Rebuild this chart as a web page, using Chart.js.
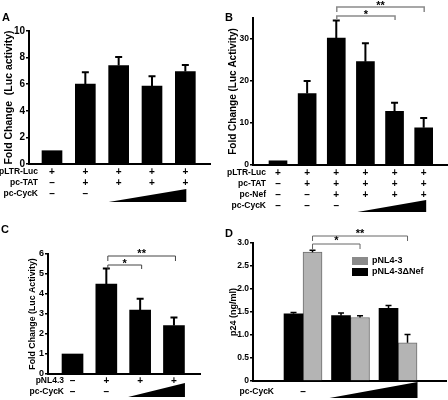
<!DOCTYPE html>
<html>
<head>
<meta charset="utf-8">
<script src="https://cdn.jsdelivr.net/npm/chart.js@4.4.1/dist/chart.umd.min.js"></script>
<style>
  html, body { margin: 0; padding: 0; background: #fff; }
  #wrap { position: relative; width: 448px; height: 400px; }
  #wrap canvas { position: absolute; left: 0; top: 0; }
</style>
</head>
<body>
<div id="wrap">
  <canvas id="chartA" width="448" height="400"></canvas>
  <canvas id="chartB" width="448" height="400"></canvas>
  <canvas id="chartC" width="448" height="400"></canvas>
  <canvas id="chartD" width="448" height="400"></canvas>
</div>
<script>
const FONT = "'Liberation Sans', Arial, sans-serif";

// Panel A data
const aRowLabels = ['pLTR-Luc', 'pc-TAT', 'pc-CycK'];
const aSigns = [
  ['+', '+', '+', '+', '+'],
  ['–', '+', '+', '+', '+'],
  ['–', '–', '', '', '']
];
const aValues = [1, 6.0, 7.4, 5.85, 6.95];
const aErrors = [0, 0.9, 0.65, 0.75, 0.5];
const aTicks = [0, 2, 4, 6, 8, 10];
const aRamp = [2, 4];

// Panel B data
const bRowLabels = ['pLTR-Luc', 'pc-TAT', 'pc-Nef', 'pc-CycK'];
const bSigns = [
  ['+', '+', '+', '+', '+', '+'],
  ['–', '+', '+', '+', '+', '+'],
  ['–', '–', '+', '+', '+', '+'],
  ['–', '–', '–', '', '', '']
];
const bValues = [1, 17.0, 30.2, 24.6, 12.8, 8.85];
const bErrors = [0, 3.0, 4.2, 4.4, 2.0, 2.35];
const bTicks = [0, 10, 20, 30];
const bRamp = [3, 5];
const bBrackets = [{ from: 2, to: 4, label: '*' }, { from: 2, to: 5, label: '**' }];

// Panel C data
const cRowLabels = ['pNL4.3', 'pc-CycK'];
const cSigns = [
  ['–', '+', '+', '+'],
  ['–', '–', '', '']
];
const cValues = [1, 4.5, 3.2, 2.42];
const cErrors = [0, 0.78, 0.56, 0.4];
const cTicks = [0, 1, 2, 3, 4, 5, 6];
const cRamp = [2, 3];
const cBrackets = [{ from: 1, to: 2, label: '*' }, { from: 1, to: 3, label: '**' }];

// Panel D data
const dSeries = ['pNL4-3ΔNef', 'pNL4-3'];
const dNefValues = [1.46, 1.42, 1.58];
const dNefErrors = [0.03, 0.06, 0.06];
const dWtValues = [2.8, 1.38, 0.83];
const dWtErrors = [0.04, 0.04, 0.18];
const dTicks = [0, 0.5, 1, 1.5, 2, 2.5, 3];
const dRowLabels = ['pc-CycK'];
const dSigns = [['–', '', '']];
const dRamp = [1, 2];
const dBrackets = [{ from: 0, to: 1, label: '*' }, { from: 0, to: 2, label: '**' }];

// geometry of each panel (page pixels)
const geoA = {
  area: { left: 29, right: 210, top: 31, bottom: 164 }, xMin: -0.69, xMax: 4.74, bar: 20,
  title: 'Fold Change  (Luc activity)', titleX: 9, titleSize: 10.5, tickSize: 10, tickPad: 1,
  rowsY: [172, 183, 194], labelRight: 38, rowSize: 8.5, signSize: 10,
  ramp: { dl: -10, dr: 1, top: 189, bottom: 202 },
  errWidth: 2, cap: 7, letter: { text: 'A', x: 2, y: 21 }
};
const geoB = {
  area: { left: 253, right: 447, top: 18, bottom: 165 }, xMin: -0.858, xMax: 5.8, bar: 18,
  title: 'Fold Change (Luc Activity)', titleX: 233, titleSize: 10, tickSize: 8.5, tickPad: 1,
  rowsY: [173, 184, 195, 206], labelRight: 266, rowSize: 8.5, signSize: 10,
  ramp: { dl: -8, dr: 2.5, top: 200, bottom: 212 },
  errWidth: 2, cap: 7, letter: { text: 'B', x: 225, y: 21 },
  brDx: 0.5, brColor: '#8a8a8a', brWidth: 1.5, starSize: 11,
  brackets: [{ y: 16, drop: 4, ty: 12 }, { y: 7, drop: 5, ty: 2.5 }]
};
const geoC = {
  area: { left: 48, right: 200, top: 254, bottom: 374 }, xMin: -0.725, xMax: 3.77, bar: 21,
  title: 'Fold Change (Luc Activity)', titleX: 33, titleSize: 8.8, tickSize: 9, tickPad: 1,
  rowsY: [381, 392], labelRight: 64, rowSize: 8.5, signSize: 10,
  ramp: { dl: -12, dr: 11, top: 383, bottom: 397 },
  errWidth: 2, cap: 7, letter: { text: 'C', x: 1, y: 233 },
  brDx: 1.5, brColor: '#444', brWidth: 1, starSize: 11,
  brackets: [{ y: 265, drop: 4, ty: 261 }, { y: 256, drop: 5, ty: 251 }]
};
const geoD = {
  area: { left: 253, right: 446, top: 243, bottom: 381 }, xMin: -1.053, xMax: 3.01, bar: 19,
  title: 'p24 (ng/ml)', titleX: 234, titleSize: 9, tickSize: 8.5, tickPad: 1,
  rowsY: [392], labelRight: 274, rowSize: 8.5, signSize: 10,
  ramp: { dl: -21, dr: 19.5, top: 382, bottom: 398 },
  errWidth: 1.5, cap: 6, letter: { text: 'D', x: 225, y: 237 },
  brDx: 9.5, brColor: '#666', brWidth: 1, starSize: 11,
  brackets: [{ y: 244, drop: 5, ty: 238 }, { y: 236, drop: 5, ty: 231 }],
  legend: { x: 352, box: 16, boxH: 8, rows: [261, 272], textX: 372 }
};

function points(values) {
  return values.map((v, i) => ({ x: i, y: v }));
}

function drawExtras(chart, g, spec) {
  const ctx = chart.ctx;
  const xs = chart.scales.x, ys = chart.scales.y;
  ctx.save();

  // error bars (upper only)
  spec.errors.forEach((errs, di) => {
    const meta = chart.getDatasetMeta(di);
    meta.data.forEach((bar, i) => {
      if (!errs[i]) return;
      const v = chart.data.datasets[di].data[i].y;
      const top = ys.getPixelForValue(v + errs[i]);
      ctx.strokeStyle = '#000';
      ctx.lineWidth = g.errWidth;
      ctx.beginPath();
      ctx.moveTo(bar.x, bar.y);
      ctx.lineTo(bar.x, top);
      ctx.moveTo(bar.x - g.cap / 2, top);
      ctx.lineTo(bar.x + g.cap / 2, top);
      ctx.stroke();
    });
  });

  // +/- rows under the axis
  ctx.fillStyle = '#000';
  ctx.textBaseline = 'middle';
  spec.rowLabels.forEach((lab, r) => {
    const yy = g.rowsY[r];
    ctx.font = `bold ${g.rowSize}px ${FONT}`;
    ctx.textAlign = 'right';
    ctx.fillText(lab, g.labelRight, yy);
    ctx.font = `bold ${g.signSize}px ${FONT}`;
    ctx.textAlign = 'center';
    spec.signs[r].forEach((s, i) => {
      if (s) ctx.fillText(s, xs.getPixelForValue(i), yy);
    });
  });

  // increasing-dose wedge
  const rx0 = xs.getPixelForValue(spec.ramp[0]) + g.ramp.dl;
  const rx1 = xs.getPixelForValue(spec.ramp[1]) + g.ramp.dr;
  ctx.beginPath();
  ctx.moveTo(rx0, g.ramp.bottom);
  ctx.lineTo(rx1, g.ramp.bottom);
  ctx.lineTo(rx1, g.ramp.top);
  ctx.closePath();
  ctx.fill();

  // significance brackets
  (spec.brackets || []).forEach((b, k) => {
    const pos = g.brackets[k];
    const x0 = xs.getPixelForValue(b.from) + g.brDx;
    const x1 = xs.getPixelForValue(b.to) + g.brDx;
    ctx.strokeStyle = g.brColor;
    ctx.lineWidth = g.brWidth;
    ctx.beginPath();
    ctx.moveTo(x0, pos.y + pos.drop);
    ctx.lineTo(x0, pos.y);
    ctx.lineTo(x1, pos.y);
    ctx.lineTo(x1, pos.y + pos.drop);
    ctx.stroke();
    ctx.fillStyle = '#000';
    ctx.font = `bold ${g.starSize}px ${FONT}`;
    ctx.textAlign = 'center';
    ctx.textBaseline = 'alphabetic';
    ctx.fillText(b.label, (x0 + x1) / 2, pos.ty + g.starSize * 0.57);
  });

  // legend (panel D)
  if (spec.legend) {
    const L = g.legend;
    ctx.font = `bold 9px ${FONT}`;
    ctx.textAlign = 'left';
    ctx.textBaseline = 'middle';
    spec.legend.forEach((item, k) => {
      ctx.fillStyle = item.color;
      ctx.fillRect(L.x, L.rows[k] - L.boxH / 2, L.box, L.boxH);
      ctx.fillStyle = '#000';
      ctx.fillText(item.label, L.textX, L.rows[k]);
    });
  }

  // panel letter
  ctx.fillStyle = '#000';
  ctx.font = `bold 11px ${FONT}`;
  ctx.textAlign = 'left';
  ctx.textBaseline = 'alphabetic';
  ctx.fillText(g.letter.text, g.letter.x, g.letter.y);
  ctx.restore();
}

function makeChart(id, g, datasets, yMax, yTicks, tickFmt, spec) {
  const scaleLeft = g.titleX - g.titleSize * 0.6;
  return new Chart(document.getElementById(id), {
    type: 'bar',
    data: { datasets },
    options: {
      responsive: false,
      animation: false,
      layout: {
        padding: { left: scaleLeft, right: 448 - g.area.right, top: g.area.top, bottom: 400 - g.area.bottom }
      },
      plugins: { legend: { display: false }, tooltip: { enabled: false } },
      scales: {
        x: {
          type: 'linear', min: g.xMin, max: g.xMax, offset: false,
          ticks: { display: false },
          grid: { display: false },
          border: { display: true, color: '#000', width: 2 },
          afterFit: s => { s.height = 0; }
        },
        y: {
          min: 0, max: yMax,
          afterBuildTicks: s => { s.ticks = yTicks.map(v => ({ value: v })); },
          ticks: {
            color: '#000', padding: g.tickPad,
            font: { family: FONT, size: g.tickSize, weight: 'bold' },
            callback: tickFmt
          },
          grid: { drawOnChartArea: false, color: '#000', lineWidth: 1.5, tickLength: 3 },
          border: { display: true, color: '#000', width: 2 },
          title: {
            display: true, text: g.title, color: '#000', padding: 0,
            font: { family: FONT, size: g.titleSize, weight: 'bold' }
          },
          afterFit: s => { s.width = g.area.left - scaleLeft; }
        }
      }
    },
    plugins: [{ id: 'extras' + id, afterDraw: c => drawExtras(c, g, spec) }]
  });
}

const plain = v => String(v);

makeChart('chartA', geoA,
  [{ data: points(aValues), backgroundColor: '#000', borderWidth: 0, barThickness: geoA.bar }],
  10, aTicks, plain,
  { errors: [aErrors], rowLabels: aRowLabels, signs: aSigns, ramp: aRamp });

makeChart('chartB', geoB,
  [{ data: points(bValues), backgroundColor: '#000', borderWidth: 0, barThickness: geoB.bar }],
  35, bTicks, plain,
  { errors: [bErrors], rowLabels: bRowLabels, signs: bSigns, ramp: bRamp, brackets: bBrackets });

makeChart('chartC', geoC,
  [{ data: points(cValues), backgroundColor: '#000', borderWidth: 0, barThickness: geoC.bar }],
  6, cTicks, plain,
  { errors: [cErrors], rowLabels: cRowLabels, signs: cSigns, ramp: cRamp, brackets: cBrackets });

makeChart('chartD', geoD,
  [
    { label: dSeries[0], data: points(dNefValues), backgroundColor: '#000', borderWidth: 0, barThickness: geoD.bar },
    { label: dSeries[1], data: points(dWtValues), backgroundColor: '#b4b4b4', borderColor: '#6e6e6e', borderWidth: 1, barThickness: geoD.bar }
  ],
  3, dTicks, v => (v === 0 ? '0' : v.toFixed(1)),
  {
    errors: [dNefErrors, dWtErrors], rowLabels: dRowLabels, signs: dSigns, ramp: dRamp, brackets: dBrackets,
    legend: [{ label: dSeries[1], color: '#8a8a8a' }, { label: dSeries[0], color: '#000' }]
  });
</script>
</body>
</html>
